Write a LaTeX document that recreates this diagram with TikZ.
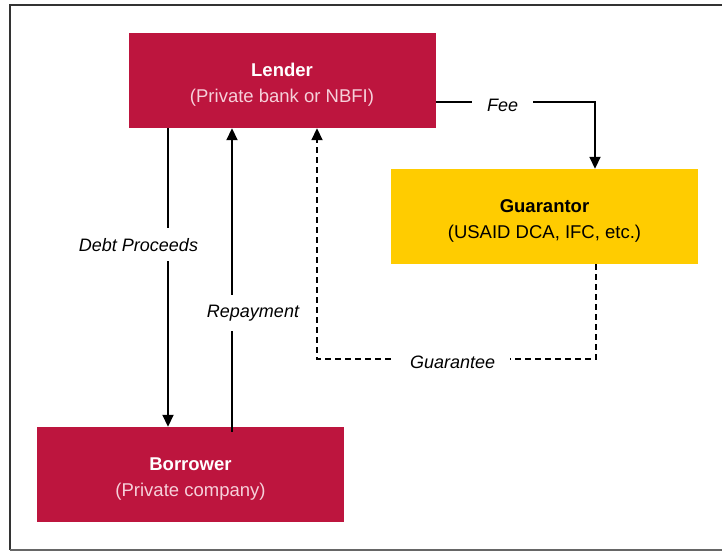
\documentclass[tikz,border=0pt]{standalone}
\usepackage{fontspec}
\setmainfont{Liberation Sans}
\usetikzlibrary{arrows.meta}

\definecolor{crimsonbox}{RGB}{189,21,62}
\definecolor{goldbox}{RGB}{255,204,0}
\definecolor{palepink}{RGB}{246,208,218}

\begin{document}
\begin{tikzpicture}[x=1pt, y=-1pt,
  box/.style={minimum width=307pt, minimum height=95pt, inner sep=0pt, align=center,
              font=\fontsize{18.5}{26}\selectfont},
  flow/.style={line width=1.8pt, -{Triangle[length=12pt,width=11pt]}},
  lbl/.style={fill=white, inner xsep=15pt, inner ysep=10pt, yshift=-3pt,
              font=\fontsize{18}{22}\selectfont\itshape}]

\useasboundingbox (0,0) rectangle (722,551);

% frame
\draw[line width=2pt, black!80] (10,550) -- (10,5) -- (722,5);
\draw[line width=1.5pt, black!60] (10,550) -- (722,550);

% boxes
\node[box, fill=crimsonbox, text=white] (lender) at (282,80.5)
  {\rule{0pt}{21pt}\textbf{Lender}\\ \color{palepink}(Private bank or NBFI)};
\node[box, fill=goldbox, text=black] (guarantor) at (544.5,216.5)
  {\rule{0pt}{21pt}\textbf{Guarantor}\\ (USAID DCA, IFC, etc.)};
\node[box, fill=crimsonbox, text=white] (borrower) at (190.5,474.5)
  {\rule{0pt}{21pt}\textbf{Borrower}\\ \color{palepink}(Private company)};

\coordinate (gturn) at (317,359);

% flows
\draw[flow] ([xshift=-114pt]lender.south) -- node[lbl, pos=0.38, xshift=-29.5pt]{Debt Proceeds}
  ([xshift=-114pt]lender.south |- borrower.north);
\draw[flow] ([xshift=41.5pt, yshift=-5pt]borrower.north) -- node[lbl, pos=0.40, xshift=21pt]{Repayment}
  ([xshift=41.5pt]borrower.north |- lender.south);
\draw[flow] ([yshift=-21.5pt]lender.east) -| node[lbl, pos=0.21]{Fee}
  ([xshift=50.5pt]guarantor.north);
\draw[flow, dash pattern=on 6pt off 4pt] ([xshift=51.5pt]guarantor.south) |- node[lbl, pos=0.757]{Guarantee}
  (gturn) -- ([xshift=35pt]lender.south);

\end{tikzpicture}
\end{document}
